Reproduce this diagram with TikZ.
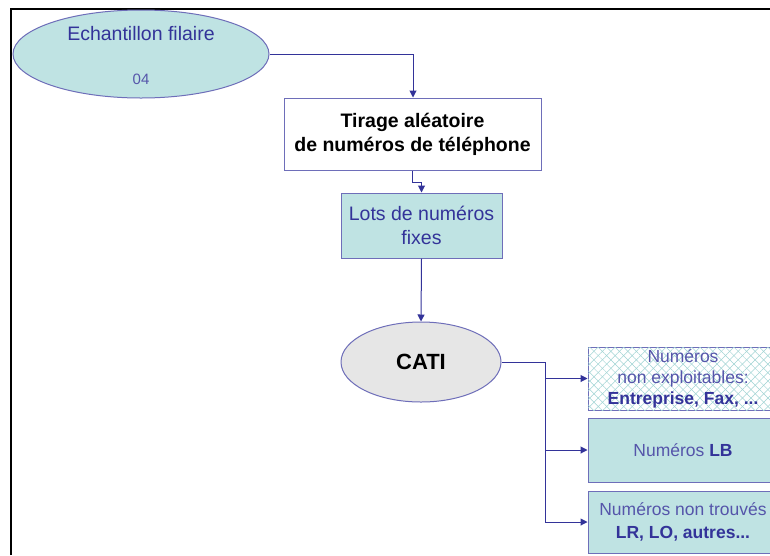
\documentclass[tikz,border=0pt]{standalone}
\usepackage{fontspec}
\setmainfont{Liberation Sans}
\usetikzlibrary{arrows.meta,shapes.geometric,patterns.meta}
\definecolor{teal1}{RGB}{191,227,227}
\definecolor{bord}{RGB}{110,110,185}
\definecolor{txtb}{RGB}{51,51,153}
\definecolor{txtl}{RGB}{85,85,170}
\definecolor{hatch}{RGB}{160,212,212}
\definecolor{greyfill}{RGB}{230,230,230}
\tikzset{
  box/.style={draw=bord,line width=1pt,rectangle,inner sep=0pt,align=center},
  ell/.style={draw=bord,line width=1pt,ellipse,inner sep=0pt},
  conn/.style={draw=txtb,line width=1pt},
  arr/.style={conn,-{Triangle[length=7pt,width=7pt]}},
  tb/.style={text=txtb,font=\fontsize{19.5}{24}\selectfont},
}
\begin{document}
\begin{tikzpicture}[x=1pt,y=-1pt]
\useasboundingbox (0,0) rectangle (770,555);
\clip (0,0) rectangle (770,555);
\fill[white] (0,0) rectangle (770,555);
% frame
\draw[black,line width=2.5pt] (11,555) -- (11,9) -- (772,9);
% nodes
\node[ell,fill=teal1,minimum width=256,minimum height=88] (ech) at (141,54) {};
\node[tb,anchor=base] (echt) at (141,40) {Echantillon filaire};
\node[text=txtl,font=\fontsize{15}{18}\selectfont,anchor=base] (ech4) at (141,84) {04};
\node[box,fill=white,minimum width=257,minimum height=72,font=\bfseries\fontsize{19.5}{24}\selectfont] (tir) at (412.5,134) {Tirage al\'eatoire\\de num\'eros de t\'el\'ephone};
\node[box,fill=teal1,minimum width=161,minimum height=65,tb] (lots) at (421.5,225.5) {Lots de num\'eros\\fixes};
\node[ell,fill=greyfill,minimum width=160,minimum height=80,font=\bfseries\fontsize{22}{26}\selectfont] (cati) at (421,362) {CATI};
\node[box,minimum width=190,minimum height=63,
  postaction={pattern={Lines[angle=45,distance=6pt,line width=0.5pt]},pattern color=hatch},
  postaction={pattern={Lines[angle=-45,distance=6pt,line width=0.5pt]},pattern color=hatch},
  fill=white] (b1) at (683,378.5) {};
\node[box,draw=none,fill=none,font=\fontsize{17.5}{21}\selectfont] (b1t) at (683,378.5)
  {\textcolor{txtl}{Num\'eros}\\\textcolor{txtl}{non exploitables:}\\\textcolor{txtb}{\bfseries Entreprise, Fax, ...}};
\node[box,fill=teal1,minimum width=190,minimum height=64,font=\fontsize{17.5}{21}\selectfont] (b2) at (683,450)
  {\textcolor{txtl}{Num\'eros} \textcolor{txtb}{\bfseries LB}};
\node[box,fill=teal1,minimum width=190,minimum height=62,font=\fontsize{17.5}{23}\selectfont] (b3) at (683,522)
  {\textcolor{txtl}{Num\'eros non trouv\'es}\\\textcolor{txtb}{\bfseries LR, LO, autres...}};
% connectors
\coordinate (j1) at (413,54);
\draw[arr] (ech.east) -- (j1) -- (j1 |- tir.north);
\draw[arr] (tir.south) -- ++(0,12) -| (lots.north);
\draw[arr] (lots.south) -- (cati.north);
\coordinate (sp) at (545,362);
\draw[conn] (cati.east) -- (sp) -- (sp |- b3.west);
\draw[arr] (sp |- b1.west) -- (b1.west);
\draw[arr] (sp |- b2.west) -- (b2.west);
\draw[arr] (sp |- b3.west) -- (b3.west);
\end{tikzpicture}
\end{document}
